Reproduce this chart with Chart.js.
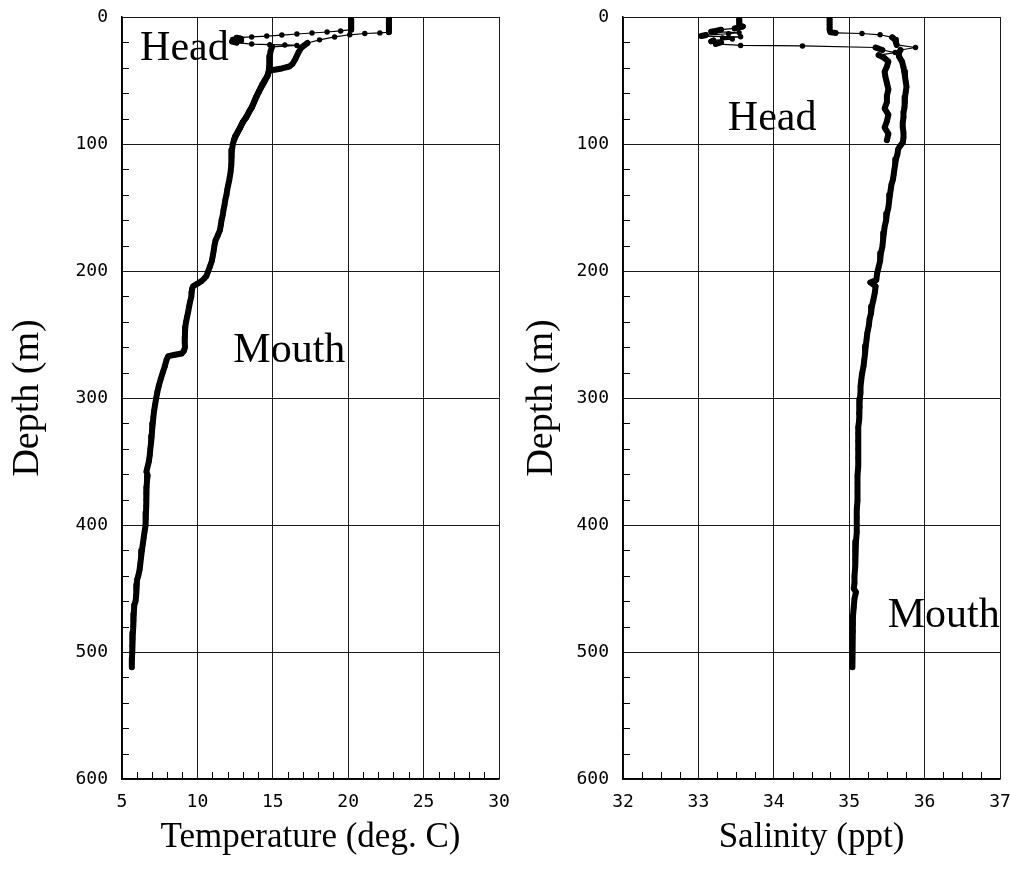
<!DOCTYPE html>
<html><head><meta charset="utf-8">
<script src="https://cdn.jsdelivr.net/npm/chart.js@4"></script>
<style>
html,body{margin:0;padding:0;background:#fff;overflow:hidden;width:1010px;height:883px;}
#c1{position:absolute;left:0;top:0;}
#c2{position:absolute;left:505px;top:0;}
</style></head><body>
<canvas id="c1" width="540" height="883"></canvas>
<canvas id="c2" width="525" height="883"></canvas>
<script>
// ---- tick labels ----
const tempTicks = [5, 10, 15, 20, 25, 30];
const salTicks = [32, 33, 34, 35, 36, 37];
const depthTicks = [0, 100, 200, 300, 400, 500, 600];

// ---- data: [depth (m), value] ----
const headTemp = [[2,20.2],[4,20.2],[6,20.2],[8,20.2],[10,20.2],[11,19.5],[11.8,18.6],[12.6,17.6],[13.4,16.6],[14.2,15.6],[15,14.6],[15.7,13.6],[16.3,12.6],[17,12.9],[17.8,12.35],[18.5,12.9],[19.3,12.3],[20.2,12.6],[21.3,13.6],[21.8,14.8],[22,15.8],[22.4,16.6],[23.5,14.95],[27,14.85],[31,14.8],[35,14.78],[39,14.75],[43,14.72],[47,14.62],[51,14.45],[55,14.25],[59,14.08],[62,13.95],[66,13.8],[70,13.65],[74,13.45],[78,13.28],[82,13.05],[86,12.88],[90,12.7],[94,12.5],[96,12.45]];

const mouthTemp = [[0,22.7],[2,22.7],[4,22.7],[6,22.7],[8,22.7],[10,22.7],[12,22.7],[12.5,22.1],[13,21.1],[14,20.1],[15.7,19.1],[18,18.1],[20.5,17.3],[24,16.9],[28,16.7],[33,16.5],[37,16.3],[39,16.1],[40.5,15.6],[41.5,15.1],[42.5,14.75],[45.7,14.68],[50,14.45],[53.5,14.28],[58,14.1],[63,13.89],[67,13.75],[71,13.62],[75,13.42],[79.5,13.22],[83,13.0],[87.4,12.82],[92,12.62],[96.9,12.43],[100,12.35],[104.7,12.29],[110,12.27],[116.5,12.23],[122,12.2],[128,12.12],[132,12.05],[136,11.98],[140,11.93],[144,11.85],[148,11.8],[152,11.73],[156,11.68],[160,11.6],[164,11.55],[168,11.49],[172,11.35],[176,11.2],[180,11.13],[184,11.08],[188,11.02],[192,10.96],[196,10.85],[200,10.72],[204,10.6],[206,10.45],[208,10.27],[210,10.0],[212,9.71],[214,9.65],[217,9.62],[220,9.6],[224,9.52],[228,9.45],[232,9.39],[236,9.32],[240,9.25],[244,9.2],[248,9.18],[252,9.17],[256,9.16],[260,9.18],[263,9.1],[265,8.96],[266,8.51],[267,8.07],[270,7.95],[275,7.84],[280,7.7],[285,7.57],[290,7.45],[295,7.35],[300,7.27],[305,7.2],[310,7.13],[315,7.08],[320,7.04],[325,7.0],[330,6.97],[335,6.93],[340,6.88],[345,6.84],[350,6.78],[355,6.68],[358,6.62],[361,6.7],[365,6.66],[370,6.63],[375,6.62],[380,6.61],[385,6.6],[390,6.59],[395,6.58],[400,6.55],[405,6.5],[410,6.44],[415,6.38],[420,6.32],[425,6.27],[430,6.22],[435,6.17],[440,6.08],[443,6.0],[447,5.98],[450,5.96],[455,5.93],[460,5.9],[463,5.82],[466,5.8],[470,5.78],[475,5.76],[480,5.74],[485,5.72],[490,5.7],[495,5.68],[500,5.67],[505,5.66],[512,5.65]];

const headSal = [[2,33.54],[4,33.54],[6,33.54],[7,33.55],[7.5,33.59],[9,33.48],[10,33.3],[11,33.23],[11.5,33.17],[12.3,33.54],[13.2,33.4],[14.2,33.1],[15,33.04],[15.6,33.56],[16.4,33.32],[17.4,33.45],[18.4,33.2],[19.2,33.17],[20,33.3],[21.2,33.23],[22.4,33.56],[22.8,34.38],[24,35.35],[26,35.44],[28,35.61],[30,35.39],[32,35.46],[35,35.52],[39,35.5],[43,35.47],[47,35.48],[52,35.5],[57,35.52],[62,35.5],[67,35.5],[72,35.47],[77,35.52],[82,35.5],[87,35.47],[92,35.52],[97,35.5]];

const mouthSal = [[0,34.74],[2,34.74],[4,34.74],[6,34.74],[8,34.74],[10,34.74],[12,34.75],[12.5,34.82],[13,35.17],[14,35.41],[16,35.57],[18,35.61],[20,35.62],[22,35.63],[24,35.88],[26,35.68],[28,35.66],[31,35.66],[35,35.7],[39.5,35.72],[43,35.73],[47,35.74],[51,35.75],[55,35.76],[59,35.75],[63,35.74],[67,35.74],[71,35.73],[75,35.72],[79,35.72],[83,35.71],[87,35.71],[91,35.72],[95,35.72],[99,35.71],[102,35.67],[104,35.65],[108,35.64],[112,35.62],[116,35.61],[120,35.6],[124,35.59],[128,35.58],[132,35.56],[136,35.55],[140,35.54],[145,35.53],[150,35.52],[155,35.5],[160,35.49],[165,35.47],[170,35.46],[175,35.45],[181,35.44],[186,35.42],[192,35.41],[197,35.39],[202,35.37],[207,35.36],[209,35.28],[212,35.35],[217,35.34],[223,35.32],[228,35.3],[233,35.29],[238,35.27],[243,35.26],[249,35.24],[254,35.23],[259,35.22],[265,35.21],[270,35.2],[275,35.19],[281,35.17],[286,35.16],[291,35.15],[296,35.15],[301,35.14],[307,35.14],[312,35.13],[317,35.13],[323,35.12],[328,35.12],[334,35.12],[340,35.12],[347,35.12],[354,35.12],[361,35.11],[367,35.11],[374,35.11],[381,35.11],[388,35.1],[394,35.1],[400,35.1],[406,35.1],[413,35.09],[420,35.08],[427,35.08],[433,35.08],[440,35.07],[446,35.07],[450,35.06],[453,35.09],[458,35.07],[465,35.06],[472,35.05],[478,35.05],[484,35.05],[490,35.04],[496,35.04],[502,35.04],[508,35.04],[512,35.04]];

// ---- text annotations (value, depth, text) ----
const tempLabels = [[6.2, 34, 'Head'], [12.38, 272, 'Mouth']];
const salLabels = [[33.39, 89, 'Head'], [35.51, 480, 'Mouth']];

const SERIF = '"Liberation Serif", "Times New Roman", serif';
const MONO = '"DejaVu Sans Mono", monospace';

const toXY = arr => arr.map(p => ({x: p[1], y: p[0]}));

function minorList(min, max, step, majors) {
  const out = [];
  const n = Math.round((max - min) / step);
  for (let i = 1; i < n; i++) {
    const v = +(min + i * step).toFixed(4);
    if (!majors.some(m => Math.abs(m - v) < 1e-6)) out.push(v);
  }
  return out;
}

const minorTicksPlugin = {
  id: 'minorTicks',
  afterDraw(chart, args, opts) {
    const {ctx, chartArea} = chart;
    const xs = chart.scales.x, ys = chart.scales.y;
    ctx.save();
    ctx.strokeStyle = '#000';
    ctx.lineWidth = 1;
    ctx.beginPath();
    for (const v of opts.xMinor) {
      const px = Math.round(xs.getPixelForValue(v)) + 0.5;
      ctx.moveTo(px, chartArea.bottom);
      ctx.lineTo(px, chartArea.bottom - 7);
    }
    for (const v of opts.yMinor) {
      const py = Math.round(ys.getPixelForValue(v)) + 0.5;
      ctx.moveTo(chartArea.left, py);
      ctx.lineTo(chartArea.left + 7, py);
    }
    ctx.stroke();
    ctx.restore();
  }
};

const textLabelsPlugin = {
  id: 'textLabels',
  afterDatasetsDraw(chart, args, opts) {
    const {ctx} = chart;
    const xs = chart.scales.x, ys = chart.scales.y;
    ctx.save();
    ctx.fillStyle = '#000';
    ctx.font = '42px ' + SERIF;
    ctx.textBaseline = 'alphabetic';
    ctx.textAlign = 'left';
    for (const [v, d, t] of opts.items) {
      ctx.fillText(t, xs.getPixelForValue(v), ys.getPixelForValue(d));
    }
    ctx.restore();
  }
};

function segWidth(ctx) {
  const dx = ctx.p1.x - ctx.p0.x, dy = ctx.p1.y - ctx.p0.y;
  return Math.hypot(dx, dy) < 9 ? 6 : 1.2;
}

function makeDataset(arr) {
  return {
    data: toXY(arr),
    showLine: true,
    borderColor: '#000',
    backgroundColor: '#000',
    borderWidth: 1.2,
    borderJoinStyle: 'round',
    borderCapStyle: 'round',
    pointRadius: 2.7,
    pointBorderWidth: 0,
    pointBackgroundColor: '#000',
    segment: {borderWidth: segWidth},
    tension: 0
  };
}

function makeChart(canvasId, cfg) {
  return new Chart(document.getElementById(canvasId), {
    type: 'scatter',
    data: {datasets: cfg.series.map(makeDataset)},
    options: {
      responsive: false,
      animation: false,
      devicePixelRatio: 1,
      layout: {padding: {top: 17, right: cfg.padRight, bottom: 0, left: 0}},
      plugins: {
        legend: {display: false},
        tooltip: {enabled: false},
        minorTicks: {xMinor: cfg.xMinor, yMinor: minorList(0, 600, 20, depthTicks)},
        textLabels: {items: cfg.labels}
      },
      scales: {
        x: {
          type: 'linear',
          min: cfg.xTicks[0],
          max: cfg.xTicks[cfg.xTicks.length - 1],
          afterBuildTicks: s => { s.ticks = cfg.xTicks.map(v => ({value: v})); },
          afterFit: s => { s.height = 104; },
          grid: {color: '#1a1a1a', lineWidth: 1, drawTicks: false},
          border: {color: '#000', width: 1.5},
          ticks: {
            color: '#000',
            font: {family: MONO, size: 18},
            padding: 13,
            maxRotation: 0,
            autoSkip: false,
            callback: v => String(v)
          },
          title: {
            display: true,
            text: cfg.xTitle,
            color: '#000',
            font: {family: SERIF, size: 35},
            padding: {top: 0, bottom: 24}
          }
        },
        y: {
          type: 'linear',
          reverse: true,
          min: 0,
          max: 600,
          afterBuildTicks: s => { s.ticks = depthTicks.map(v => ({value: v})); },
          afterFit: s => { s.width = cfg.yWidth; s.paddingTop = 0; s.paddingBottom = 0; },
          grid: {color: '#1a1a1a', lineWidth: 1, drawTicks: false},
          border: {color: '#000', width: 1.5},
          ticks: {
            color: '#000',
            font: {family: MONO, size: 18},
            padding: 14,
            autoSkip: false,
            callback: v => String(v)
          },
          title: {
            display: true,
            text: 'Depth (m)',
            color: '#000',
            font: {family: SERIF, size: 38},
            padding: {top: cfg.yTitlePad, bottom: 0}
          }
        }
      }
    },
    plugins: [minorTicksPlugin, textLabelsPlugin]
  });
}

makeChart('c1', {
  series: [headTemp, mouthTemp],
  xTicks: tempTicks,
  xMinor: minorList(5, 30, 1, tempTicks),
  xTitle: 'Temperature (deg. C)',
  labels: tempLabels,
  padRight: 41,
  yWidth: 122,
  yTitlePad: 5
});

makeChart('c2', {
  series: [headSal, mouthSal],
  xTicks: salTicks,
  xMinor: minorList(32, 37, 0.25, salTicks),
  xTitle: 'Salinity (ppt)',
  labels: salLabels,
  padRight: 30,
  yWidth: 118,
  yTitlePad: 14
});
</script>
</body></html>
